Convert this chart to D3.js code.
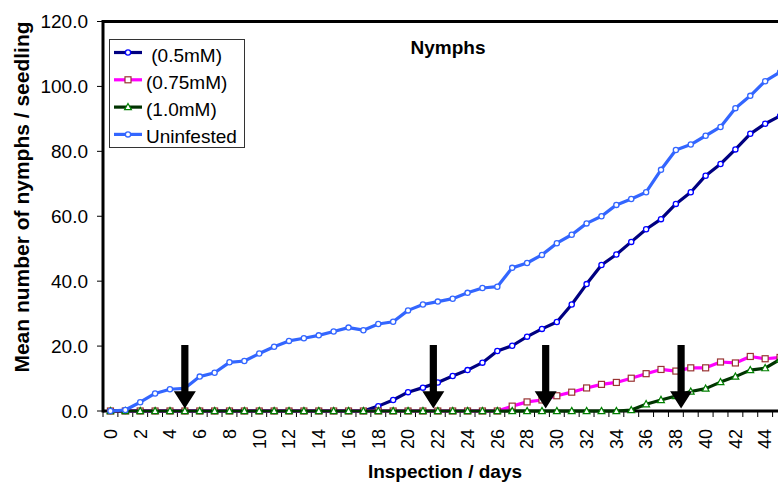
<!DOCTYPE html>
<html>
<head>
<meta charset="utf-8">
<script src="https://cdn.jsdelivr.net/npm/d3@7"></script>
<style>
  body { margin: 0; background: #fff; }
  svg { font-family: "Liberation Sans", Arial, sans-serif; }
</style>
</head>
<body>
<div id="chart"></div>
<script>
// inspection days (categories)
var days = [0,1,2,3,4,5,6,7,8,9,10,11,12,13,14,15,16,17,18,19,20,21,22,
            23,24,25,26,27,28,29,30,31,32,33,34,35,36,37,38,39,40,41,42,43,44,45]

// series, mean nymphs / seedling
var mM05 = [0,0,0,0,0,0,0,0,0,0,0,0,0,0,0,0,0,0,1.5,3.4,5.8,7.2,8.8,10.8,12.6,14.9,
            18.5,20.1,22.9,25.3,27.4,32.8,39.1,45.0,48.2,52.1,56.0,59.1,63.8,67.4,72.5,76.1,80.6,85.4,88.5,90.9]
var mM075 = [0,0,0,0,0,0,0,0,0,0,0,0,0,0,0,0,0,0,0,0,0,0,0,0,0,0,0,1.5,2.8,3.4,4.7,5.8,
             7.1,8.2,8.8,10.1,11.5,12.8,12.3,13.3,13.3,15.1,14.8,16.8,16.1,16.5]
var mM10 = [0,0,0,0,0,0,0,0,0,0,0,0,0,0,0,0,0,0,0,0,0,0,0,0,0,0,0,0,0,0,0,0,0,0,0,
            0.3,2.1,3.4,4.6,6.0,6.9,8.9,10.6,12.6,13.2,15.9]
var uninfested = [0,0.3,2.7,5.4,6.7,7.0,10.6,11.8,15.0,15.4,17.7,19.8,21.6,22.4,23.3,24.5,
                  25.7,24.9,26.8,27.5,31.0,32.8,33.7,34.6,36.4,37.9,38.3,44.1,45.6,48.1,51.7,
                  54.3,57.8,60.0,63.5,65.3,67.4,74.3,80.4,82.1,84.8,87.5,93.3,97.1,101.6,104.4]

// arrows (day positions)
var arrowDays = [5, 21.7, 29.25, 38.35]

var yTicks = [0, 20, 40, 60, 80, 100, 120]

var series = [
  { name: " (0.5mM)", values: mM05, line: "#000080", mark: "#0000ff", shape: "circle" },
  { name: "(0.75mM)", values: mM075, line: "#ff00ff", mark: "#993333", shape: "square" },
  { name: "(1.0mM)", values: mM10, line: "#003300", mark: "#008000", shape: "triangle" },
  { name: "Uninfested", values: uninfested, line: "#3366ff", mark: "#3366ff", shape: "circle" }
]

var W = 778, H = 483
var plotLeft = 103, plotTop = 21.5, plotBottom = 411
var step = 14.88
var plotRight = plotLeft + days.length * step

var svg = d3.select("#chart").append("svg")
  .attr("width", W)
  .attr("height", H)

var x = d3.scaleBand().domain(days).range([plotLeft, plotRight]).padding(0)
var xc = function(d) { return x(d) + x.bandwidth() / 2 }
var xd = d3.scaleLinear().domain([0, 45]).range([xc(0), xc(45)])
var y = d3.scaleLinear().domain([0, 120]).range([plotBottom, plotTop])

// plot frame (top)
svg.append("line")
  .attr("x1", plotLeft).attr("x2", W + 20)
  .attr("y1", plotTop).attr("y2", plotTop)
  .attr("stroke", "#000").attr("stroke-width", 3)

// y axis
var yAxis = svg.append("g")
yAxis.selectAll("line.tick")
  .data(yTicks)
  .join("line")
  .attr("class", "tick")
  .attr("x1", plotLeft - 6).attr("x2", plotLeft)
  .attr("y1", function(d) { return y(d) }).attr("y2", function(d) { return y(d) })
  .attr("stroke", "#000").attr("stroke-width", 1)
yAxis.selectAll("text")
  .data(yTicks)
  .join("text")
  .attr("x", 88)
  .attr("y", function(d) { return y(d) })
  .attr("dy", "0.35em")
  .attr("text-anchor", "end")
  .attr("font-size", 19)
  .text(function(d) { return d3.format(".1f")(d) })

// x axis ticks between categories
var edges = days.concat([days.length])
svg.append("g").selectAll("line")
  .data(edges)
  .join("line")
  .attr("x1", function(d) { return plotLeft + d * x.step() })
  .attr("x2", function(d) { return plotLeft + d * x.step() })
  .attr("y1", plotBottom).attr("y2", plotBottom + 6)
  .attr("stroke", "#000").attr("stroke-width", 1)

svg.append("g").selectAll("text")
  .data(days.filter(function(d) { return d % 2 == 0 }))
  .join("text")
  .attr("transform", function(d) { return "translate(" + xc(d) + "," + 429 + ") rotate(-90)" })
  .attr("dy", "0.35em")
  .attr("text-anchor", "end")
  .attr("font-size", 18)
  .text(function(d) { return d })

// axis lines
svg.append("line")
  .attr("x1", plotLeft).attr("x2", plotLeft)
  .attr("y1", plotTop - 1.5).attr("y2", plotBottom + 1.5)
  .attr("stroke", "#000").attr("stroke-width", 3)
svg.append("line")
  .attr("x1", plotLeft).attr("x2", W + 20)
  .attr("y1", plotBottom).attr("y2", plotBottom)
  .attr("stroke", "#000").attr("stroke-width", 3)

// series
var line = d3.line()
  .x(function(d, i) { return xc(days[i]) })
  .y(function(d) { return y(d) })

function marker(g, shape, color, cx, cy) {
  if (shape == "circle") {
    g.append("circle").attr("cx", cx).attr("cy", cy).attr("r", 2.6)
      .attr("fill", "#fff").attr("stroke", color).attr("stroke-width", 1.3)
  } else if (shape == "square") {
    g.append("rect").attr("x", cx - 3).attr("y", cy - 3).attr("width", 6).attr("height", 6)
      .attr("fill", "#fff").attr("stroke", color).attr("stroke-width", 1.2)
  } else {
    g.append("path")
      .attr("d", "M" + cx + "," + (cy - 3.6) + "L" + (cx + 3.4) + "," + (cy + 2.6) + "L" + (cx - 3.4) + "," + (cy + 2.6) + "Z")
      .attr("fill", "#fff").attr("stroke", color).attr("stroke-width", 1.2)
  }
}

series.forEach(function(s) {
  var g = svg.append("g")
  g.append("path")
    .attr("d", line(s.values))
    .attr("fill", "none")
    .attr("stroke", s.line)
    .attr("stroke-width", 3.2)
    .attr("stroke-linejoin", "round")
  s.values.forEach(function(v, i) {
    marker(g, s.shape, s.mark, xc(days[i]), y(v))
  })
})

// arrows
svg.append("g").selectAll("path")
  .data(arrowDays)
  .join("path")
  .attr("d", function(d) {
    var cx = xd(d), t = y(20.3), hb = y(6.1), tip = y(0.8)
    return "M" + (cx - 3.6) + "," + t + "L" + (cx + 3.6) + "," + t +
      "L" + (cx + 3.6) + "," + hb + "L" + (cx + 11) + "," + hb +
      "L" + cx + "," + tip + "L" + (cx - 11) + "," + hb +
      "L" + (cx - 3.6) + "," + hb + "Z"
  })
  .attr("fill", "#000")

// legend
var lg = svg.append("g")
lg.append("rect")
  .attr("x", 109.5).attr("y", 39.5).attr("width", 135).attr("height", 108)
  .attr("fill", "#fff").attr("stroke", "#333").attr("stroke-width", 1)
series.forEach(function(s, i) {
  var ly = 52.5 + i * 27.3
  lg.append("line")
    .attr("x1", 114).attr("x2", 142).attr("y1", ly).attr("y2", ly)
    .attr("stroke", s.line).attr("stroke-width", 3.2)
  marker(lg, s.shape, s.mark, 128, ly)
  lg.append("text")
    .attr("x", 146).attr("y", ly + 9)
    .attr("font-size", 19)
    .attr("xml:space", "preserve")
    .style("white-space", "pre")
    .text(s.name)
})

// titles
svg.append("text")
  .attr("x", 448).attr("y", 54)
  .attr("text-anchor", "middle")
  .attr("font-size", 19).attr("font-weight", "bold")
  .text("Nymphs")

svg.append("text")
  .attr("x", 445).attr("y", 478)
  .attr("text-anchor", "middle")
  .attr("font-size", 19).attr("font-weight", "bold")
  .text("Inspection / days")

svg.append("text")
  .attr("transform", "translate(29,197) rotate(-90)")
  .attr("text-anchor", "middle")
  .attr("font-size", 21).attr("font-weight", "bold")
  .text("Mean number of nymphs / seedling")
</script>
</body>
</html>
